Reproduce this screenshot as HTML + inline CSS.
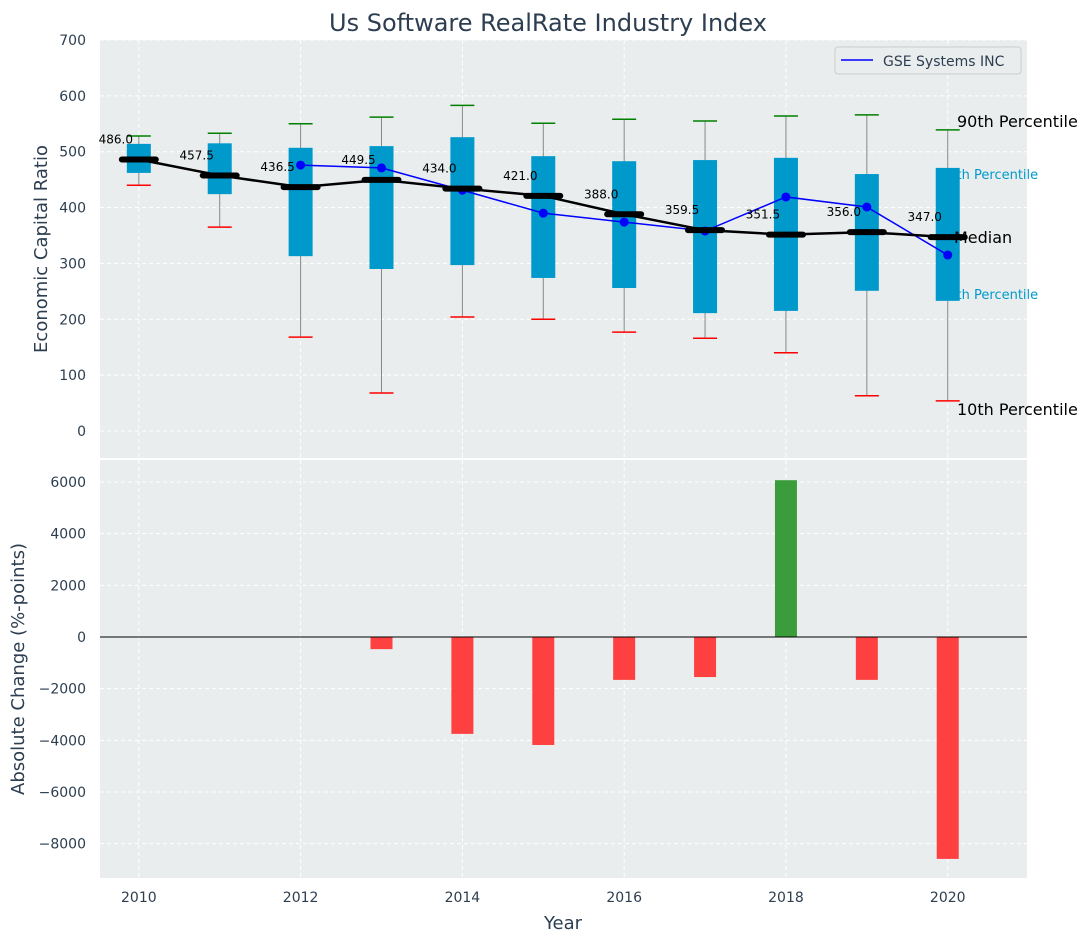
<!DOCTYPE html>
<html><head><meta charset="utf-8">
<style>
body{margin:0;background:#fff;font-family:"Liberation Sans","DejaVu Sans",sans-serif;}
svg text{font-family:"DejaVu Sans","Liberation Sans",sans-serif;}
</style></head>
<body>
<svg id="chart" width="1092" height="942" xmlns="http://www.w3.org/2000/svg"></svg>
<script>
const years=[2010,2011,2012,2013,2014,2015,2016,2017,2018,2019,2020];
const p10=[440,365,168,68,204,200,177,166,140,63,54];
const p25=[462,424,313,290,297,274,256,211,215,251,233];
const medians=[486.0,457.5,436.5,449.5,434.0,421.0,388.0,359.5,351.5,356.0,347.0];
const p75=[514,515,507,510,526,492,483,485,489,460,471];
const p90=[528,533,550,562,583,551,558,555,564,566,539];
const gseYears=[2012,2013,2014,2015,2016,2017,2018,2019,2020];
const gseValues=[476,471,431,390,374,358,419,401,315];
const changeYears=[2013,2014,2015,2016,2017,2018,2019,2020];
const changeValues=[-470,-3750,-4180,-1660,-1550,6070,-1660,-8590];
const topTicks=[0,100,200,300,400,500,600,700];
const botTicks=[-8000,-6000,-4000,-2000,0,2000,4000,6000];
const xTicks=[2010,2012,2014,2016,2018,2020];

const NS="http://www.w3.org/2000/svg";
const svg=document.getElementById('chart');
function el(tag,attrs,parent,text){const e=document.createElementNS(NS,tag);for(const k in attrs)e.setAttribute(k,attrs[k]);if(text!==undefined)e.textContent=text;(parent||svg).appendChild(e);return e;}
const L=100,R=1027;
const X=v=>L+(v-2009.52)/(2020.98-2009.52)*(R-L);
const T0=40,T1=458,B0=460,B1=878;
const YT=v=>431-v*0.5586;
const YB=v=>637-v*(155/6000);
const fmt=v=>(v<0?'\u2212':'')+Math.abs(v);

let g=el('g',{});
el('rect',{x:L,y:T0,width:R-L,height:T1-T0,fill:'#eaeded'},g);
let g2=el('g',{});
el('rect',{x:L,y:B0,width:R-L,height:B1-B0,fill:'#eaeded'},g2);
xTicks.forEach(t=>{[[T0,T1,g],[B0,B1,g2]].forEach(([a,b,p])=>el('line',{x1:X(t),x2:X(t),y1:a,y2:b,stroke:'#fff','stroke-dasharray':'4,3','stroke-width':1},p));});
topTicks.forEach(t=>{el('line',{x1:L,x2:R,y1:YT(t),y2:YT(t),stroke:'#fff','stroke-dasharray':'4,3'},g);
 const tx=el('text',{x:86,y:YT(t)+5,'text-anchor':'end','font-size':14,fill:'#2c3e50'},g,String(t));});
botTicks.forEach(t=>{el('line',{x1:L,x2:R,y1:YB(t),y2:YB(t),stroke:'#fff','stroke-dasharray':'4,3'},g2);
 const tx=el('text',{x:86,y:YB(t)+5,'text-anchor':'end','font-size':14,fill:'#2c3e50'},g2,fmt(t));});
xTicks.forEach(t=>{const tx=el('text',{x:X(t),y:902,'text-anchor':'middle','font-size':14,fill:'#2c3e50'},svg,String(t));});

const rlUnder=[['75th Percentile',940,179,13,'#0099cc'],['25th Percentile',940,299,13,'#0099cc']];
rlUnder.forEach(r=>{const t=el('text',{x:r[1],y:r[2],'font-size':r[3],fill:r[4]},g,r[0]);});

years.forEach((yr,i)=>{
 const x=X(yr),bw=12;
 const b=el('g',{},g);
 el('line',{x1:x,x2:x,y1:YT(p90[i]),y2:YT(p10[i]),stroke:'#888','stroke-width':1},b);
 el('rect',{x:x-bw,y:YT(p75[i]),width:bw*2,height:YT(p25[i])-YT(p75[i]),fill:'#0099cc'},b);
 el('line',{x1:x-12,x2:x+12,y1:YT(p90[i]),y2:YT(p90[i]),stroke:'green','stroke-width':1.5},b);
 el('line',{x1:x-12,x2:x+12,y1:YT(p10[i]),y2:YT(p10[i]),stroke:'red','stroke-width':1.5},b);
});
const gp=gseYears.map((y,i)=>X(y)+','+YT(gseValues[i])).join(' ');
const gl=el('polyline',{points:gp,fill:'none',stroke:'blue','stroke-width':1.5},g);
gseYears.forEach((y,i)=>{const c=el('circle',{cx:X(y),cy:YT(gseValues[i]),r:4.5,fill:'blue'},g);});
const mp=years.map((y,i)=>X(y)+','+YT(medians[i])).join(' ');
const ml=el('polyline',{points:mp,fill:'none',stroke:'#000','stroke-width':2.5},g);
years.forEach((y,i)=>{
 const m=el('line',{x1:X(y)-17,x2:X(y)+17,y1:YT(medians[i]),y2:YT(medians[i]),stroke:'#000','stroke-width':6,'stroke-linecap':'round'},g);
 const t=el('text',{x:X(y)-23,y:YT(medians[i])-16,'text-anchor':'middle','font-size':12,fill:'#000'},g,medians[i].toFixed(1));
});
const rl=[['90th Percentile',957,127,16,'#000'],['Median',954,243,16,'#000'],['10th Percentile',957,415,16,'#000']];
rl.forEach(r=>{const t=el('text',{x:r[1],y:r[2],'font-size':r[3],fill:r[4]},svg,r[0]);});
const lg=el('g',{});
el('rect',{x:835,y:47,width:186,height:27,rx:3,fill:'#eaeded',stroke:'#ccc'},lg);
el('line',{x1:841,x2:873,y1:60,y2:60,stroke:'blue','stroke-width':1.5},lg);
el('text',{x:883,y:66,'font-size':14,fill:'#2c3e50'},lg,'GSE Systems INC');

changeYears.forEach((y,i)=>{const v=changeValues[i];const r=el('rect',{x:X(y)-11,y:Math.min(YB(v),YB(0)),width:22,height:Math.abs(YB(v)-YB(0)),fill:v>=0?'#3a9c3a':'#ff4040'},g2);});
el('line',{x1:L,x2:R,y1:YB(0),y2:YB(0),stroke:'#000','stroke-width':1},g2);

let t=el('text',{x:548,y:31,'text-anchor':'middle','font-size':24,fill:'#2c3e50'},svg,'Us Software RealRate Industry Index');
t=el('text',{x:0,y:0,'text-anchor':'middle','font-size':18,fill:'#2c3e50',transform:'translate(47,249) rotate(-90)'},svg,'Economic Capital Ratio');
t=el('text',{x:0,y:0,'text-anchor':'middle','font-size':18,fill:'#2c3e50',transform:'translate(24,669) rotate(-90)'},svg,'Absolute Change (%-points)');
t=el('text',{x:563,y:929,'text-anchor':'middle','font-size':18,fill:'#2c3e50'},svg,'Year');
</script>
</body></html>
